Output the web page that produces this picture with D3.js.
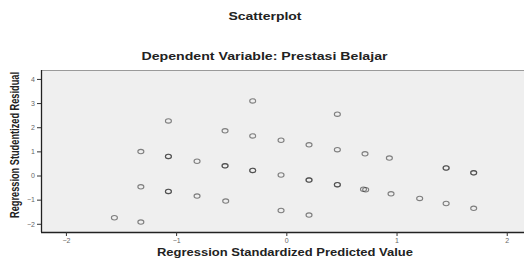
<!DOCTYPE html>
<html lang="en">
  <head>
    <meta charset="UTF-8" />
    <title>Scatterplot</title>
    <script src="https://d3js.org/d3.v7.min.js"></script>
    <style>
      body {
        margin: 0;
        padding: 0;
        background-color: #ffffff;
        font-family: "Liberation Sans", Arial, sans-serif;
      }
    </style>
  </head>
  <body>
    <div id="chart"></div>
    <script>
      // -----------------------------
      // Data
      // -----------------------------
      const predicted = [
        -1.56, -1.32, -1.32, -1.32, -1.07, -1.07, -1.07, -1.07, -1.07,
        -0.81, -0.81, -0.556, -0.556, -0.556, -0.55,
        -0.305, -0.305, -0.305, -0.305, -0.048, -0.048, -0.048,
        0.206, 0.206, 0.206, 0.206, 0.463, 0.463, 0.463, 0.463,
        0.70, 0.72, 0.714, 0.935, 0.95, 1.21,
        1.45, 1.45, 1.45, 1.70, 1.70, 1.70
      ];
      const residual = [
        -1.75, -1.93, -0.47, 0.99, 2.26, 0.79, 0.79, -0.66, -0.66,
        0.59, -0.85, 1.85, 0.40, 0.40, -1.06,
        3.09, 1.64, 0.21, 0.21, 1.46, 0.02, -1.45,
        1.27, -0.19, -0.19, -1.64, 2.54, 1.07, -0.38, -0.38,
        -0.57, -0.59, 0.90, 0.72, -0.76, -0.95,
        0.31, 0.31, -1.16, 0.11, 0.11, -1.36
      ];
      const xTicks = [-2, -1, 0, 1, 2];
      const yTicks = [-2, -1, 0, 1, 2, 3, 4];
      const title = "Scatterplot";
      const subtitle = "Dependent Variable: Prestasi Belajar";
      const xLabel = "Regression Standardized Predicted Value";
      const yLabel = "Regression Studentized Residual";

      const points = predicted.map((p, i) => ({ x: p, y: residual[i] }));

      // -----------------------------
      // SVG and scales
      // -----------------------------
      const width = 524;
      const height = 260;
      const plot = { left: 41, right: 530, top: 70, bottom: 232 };

      const svg = d3
        .select("#chart")
        .append("svg")
        .attr("width", width)
        .attr("height", height);

      const x = d3.scaleLinear().domain([-2.226, 2.211]).range([plot.left, plot.right]);
      const y = d3.scaleLinear().domain([-2.34, 4.37]).range([plot.bottom, plot.top]);

      // plot background + top border
      svg
        .append("rect")
        .attr("x", plot.left)
        .attr("y", plot.top)
        .attr("width", plot.right - plot.left)
        .attr("height", plot.bottom - plot.top)
        .attr("fill", "#efefef");
      svg
        .append("line")
        .attr("x1", plot.left)
        .attr("x2", plot.right)
        .attr("y1", plot.top + 0.5)
        .attr("y2", plot.top + 0.5)
        .attr("stroke", "#9a9a9a")
        .attr("stroke-width", 1.2);

      // axes
      const xAxis = svg
        .append("g")
        .attr("transform", `translate(0,${plot.bottom})`)
        .call(d3.axisBottom(x).tickValues(xTicks).tickSize(4).tickPadding(2).tickFormat(d3.format("d")));
      const yAxis = svg
        .append("g")
        .attr("transform", `translate(${plot.left},0)`)
        .call(d3.axisLeft(y).tickValues(yTicks).tickSize(4).tickPadding(2).tickFormat(d3.format("d")));

      [xAxis, yAxis].forEach((g) => {
        g.select(".domain").attr("stroke", "#222").attr("stroke-width", 1.3);
        g.selectAll(".tick line").attr("stroke", "#333");
        g.selectAll(".tick text")
          .attr("fill", "#666")
          .style("font-size", "7px")
          .style("font-family", "'Liberation Sans', Arial, sans-serif");
      });
      // keep the axis lines inside the frame
      yAxis.select(".domain").attr("d", `M0.5,${plot.top}V${plot.bottom}`);
      xAxis.select(".domain").attr("d", `M${plot.left},0.5H${plot.right}`);

      // points (semi-opaque so overlapping cases look darker)
      svg
        .append("g")
        .selectAll("ellipse")
        .data(points)
        .join("ellipse")
        .attr("cx", (d) => x(d.x))
        .attr("cy", (d) => y(d.y))
        .attr("rx", 3)
        .attr("ry", 2.2)
        .attr("fill", "none")
        .attr("stroke", "#333")
        .attr("stroke-opacity", 0.6)
        .attr("stroke-width", 1.1);

      // titles
      svg
        .append("text")
        .attr("x", 265)
        .attr("y", 20)
        .attr("text-anchor", "middle")
        .attr("textLength", 73)
        .attr("lengthAdjust", "spacingAndGlyphs")
        .style("font-size", "10px")
        .style("font-weight", "bold")
        .attr("fill", "#222")
        .text(title);

      svg
        .append("text")
        .attr("x", 264.5)
        .attr("y", 60)
        .attr("text-anchor", "middle")
        .attr("textLength", 246)
        .attr("lengthAdjust", "spacingAndGlyphs")
        .style("font-size", "10px")
        .style("font-weight", "bold")
        .attr("fill", "#222")
        .text(subtitle);

      svg
        .append("text")
        .attr("x", 285)
        .attr("y", 256)
        .attr("text-anchor", "middle")
        .attr("textLength", 256)
        .attr("lengthAdjust", "spacingAndGlyphs")
        .style("font-size", "10px")
        .style("font-weight", "bold")
        .attr("fill", "#222")
        .text(xLabel);

      svg
        .append("text")
        .attr("transform", "translate(19,145) rotate(-90)")
        .attr("text-anchor", "middle")
        .attr("textLength", 146)
        .attr("lengthAdjust", "spacingAndGlyphs")
        .style("font-size", "12px")
        .style("font-weight", "bold")
        .attr("fill", "#222")
        .text(yLabel);
    </script>
  </body>
</html>
